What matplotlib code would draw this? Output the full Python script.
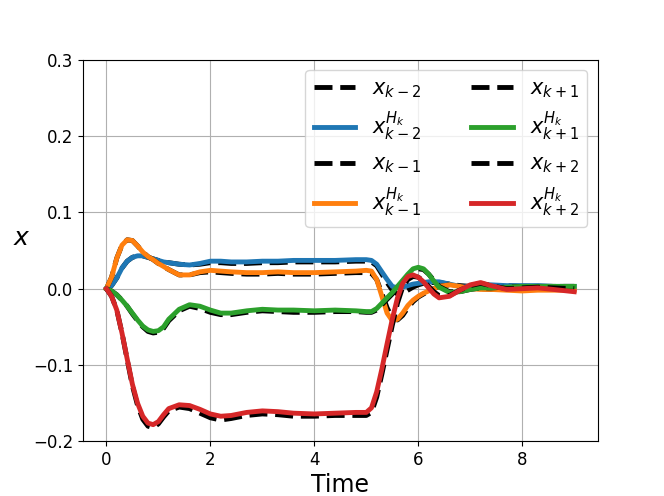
import matplotlib
matplotlib.use("Agg")
import matplotlib.pyplot as plt

# time samples
t = [0, 0.1, 0.2, 0.3, 0.4, 0.5, 0.6, 0.7, 0.8, 0.9, 1.0, 1.1, 1.2,
     1.4, 1.6, 1.8, 2.0, 2.2, 2.4,
     2.7, 3.0, 3.3, 3.6, 4.0, 4.4, 4.8,
     5.0, 5.1, 5.2, 5.3, 5.4, 5.5, 5.6, 5.7, 5.8, 5.9, 6.0, 6.1, 6.2, 6.3, 6.4,
     6.6, 6.8, 7.0, 7.2, 7.4,
     7.7, 8.0, 8.3, 8.6, 9.0]

x_km2 = [0, 0.004, 0.014, 0.027, 0.036, 0.041, 0.043, 0.043, 0.041, 0.039, 0.037, 0.035, 0.034,
         0.032, 0.031, 0.032, 0.034, 0.034, 0.033,
         0.033, 0.034, 0.034, 0.035, 0.035, 0.035, 0.036,
         0.036, 0.035, 0.030, 0.019, 0.008, -0.002, -0.007, -0.006, -0.002, 0.002, 0.005, 0.007, 0.008, 0.008, 0.008,
         0.006, 0.004, 0.003, 0.004, 0.004,
         0.004, 0.003, 0.003, 0.003, 0.003]
x_km2_H = [0, 0.004, 0.014, 0.027, 0.036, 0.041, 0.043, 0.043, 0.041, 0.039, 0.037, 0.035, 0.034,
           0.032, 0.031, 0.033, 0.036, 0.036, 0.035,
           0.035, 0.036, 0.036, 0.037, 0.037, 0.037, 0.038,
           0.038, 0.037, 0.032, 0.022, 0.012, 0.003, 0.001, 0.002, 0.004, 0.006, 0.007, 0.008, 0.009, 0.009, 0.009,
           0.006, 0.003, 0.003, 0.005, 0.005,
           0.004, 0.004, 0.004, 0.003, 0.003]

x_km1 = [0, 0.015, 0.040, 0.057, 0.064, 0.063, 0.056, 0.048, 0.042, 0.038, 0.033, 0.029, 0.025,
         0.018, 0.018, 0.021, 0.022, 0.021, 0.020,
         0.019, 0.019, 0.020, 0.019, 0.019, 0.020, 0.021,
         0.021, 0.020, 0.012, -0.006, -0.025, -0.038, -0.041, -0.035, -0.025, -0.017, -0.011, -0.007, -0.003, 0.000, 0.003,
         0.005, 0.003, 0.001, 0.000, -0.001,
         -0.001, -0.001, -0.001, -0.001, -0.001]
x_km1_H = [0, 0.015, 0.040, 0.057, 0.064, 0.063, 0.056, 0.048, 0.042, 0.038, 0.033, 0.029, 0.025,
           0.018, 0.018, 0.022, 0.024, 0.023, 0.022,
           0.021, 0.021, 0.022, 0.021, 0.021, 0.022, 0.023,
           0.024, 0.023, 0.012, -0.010, -0.032, -0.042, -0.040, -0.032, -0.022, -0.015, -0.010, -0.006, -0.003, 0.000, 0.003,
           0.005, 0.003, 0.000, -0.001, -0.001,
           -0.002, -0.003, -0.002, -0.002, -0.002]

x_kp1 = [0, -0.003, -0.008, -0.015, -0.023, -0.033, -0.042, -0.050, -0.056, -0.058, -0.057, -0.052, -0.042,
         -0.029, -0.023, -0.026, -0.031, -0.034, -0.034,
         -0.031, -0.029, -0.030, -0.031, -0.031, -0.030, -0.030,
         -0.031, -0.031, -0.028, -0.021, -0.014, -0.007, 0.001, 0.009, 0.017, 0.024, 0.026, 0.025, 0.019, 0.011, 0.003,
         -0.004, -0.004, -0.001, 0.001, 0.001,
         0.002, 0.003, 0.003, 0.003, 0.003]
x_kp1_H = [0, -0.003, -0.008, -0.015, -0.023, -0.032, -0.041, -0.049, -0.054, -0.056, -0.055, -0.050, -0.040,
           -0.027, -0.021, -0.023, -0.028, -0.032, -0.032,
           -0.029, -0.027, -0.028, -0.028, -0.029, -0.028, -0.029,
           -0.030, -0.030, -0.026, -0.019, -0.012, -0.005, 0.003, 0.011, 0.019, 0.026, 0.028, 0.026, 0.019, 0.010, 0.002,
           -0.005, -0.004, -0.001, 0.001, 0.001,
           0.002, 0.003, 0.003, 0.003, 0.003]

x_kp2 = [0, -0.010, -0.028, -0.058, -0.093, -0.127, -0.153, -0.171, -0.180, -0.182, -0.177, -0.168, -0.160,
         -0.155, -0.157, -0.163, -0.169, -0.172, -0.170,
         -0.166, -0.164, -0.165, -0.167, -0.167, -0.166, -0.166,
         -0.166, -0.162, -0.142, -0.112, -0.080, -0.048, -0.019, 0.002, 0.012, 0.016, 0.015, 0.010, 0.003, -0.004, -0.009,
         -0.009, -0.002, 0.004, 0.007, 0.004,
         0.000, 0.001, 0.002, 0.001, 0.000]
x_kp2_H = [0, -0.010, -0.028, -0.058, -0.092, -0.125, -0.150, -0.167, -0.176, -0.178, -0.174, -0.165, -0.157,
           -0.152, -0.153, -0.158, -0.164, -0.167, -0.166,
           -0.162, -0.160, -0.161, -0.163, -0.164, -0.163, -0.162,
           -0.162, -0.156, -0.135, -0.105, -0.072, -0.040, -0.012, 0.007, 0.016, 0.018, 0.015, 0.009, 0.001, -0.007, -0.012,
           -0.010, -0.002, 0.005, 0.008, 0.004,
           -0.001, 0.000, 0.001, -0.001, -0.004]

pairs = [
    (x_km2, x_km2_H, r'$x_{k-2}$', r'$x_{k-2}^{H_k}$', 'tab:blue'),
    (x_km1, x_km1_H, r'$x_{k-1}$', r'$x_{k-1}^{H_k}$', 'tab:orange'),
    (x_kp1, x_kp1_H, r'$x_{k+1}$', r'$x_{k+1}^{H_k}$', 'tab:green'),
    (x_kp2, x_kp2_H, r'$x_{k+2}$', r'$x_{k+2}^{H_k}$', 'tab:red'),
]

fig, ax = plt.subplots(figsize=(6.64, 4.96), dpi=100)

for ref, hyp, lab_ref, lab_hyp, col in pairs:
    assert len(ref) == len(t) and len(hyp) == len(t)
    ax.plot(t, ref, 'k--', lw=3.5, label=lab_ref)
    ax.plot(t, hyp, color=col, lw=3.5, label=lab_hyp)

ax.set_ylim(-0.2, 0.3)
ax.set_yticks([-0.2, -0.1, 0.0, 0.1, 0.2, 0.3])
ax.tick_params(labelsize=12)
ax.set_xlabel('Time', fontsize=17, labelpad=3)
ax.set_ylabel(r'$x$', fontsize=18, rotation=0, labelpad=8)
ax.grid(True)
ax.legend(ncol=2, loc='upper right', fontsize=15, columnspacing=2.4)

fig.savefig('out.png', dpi=100)
